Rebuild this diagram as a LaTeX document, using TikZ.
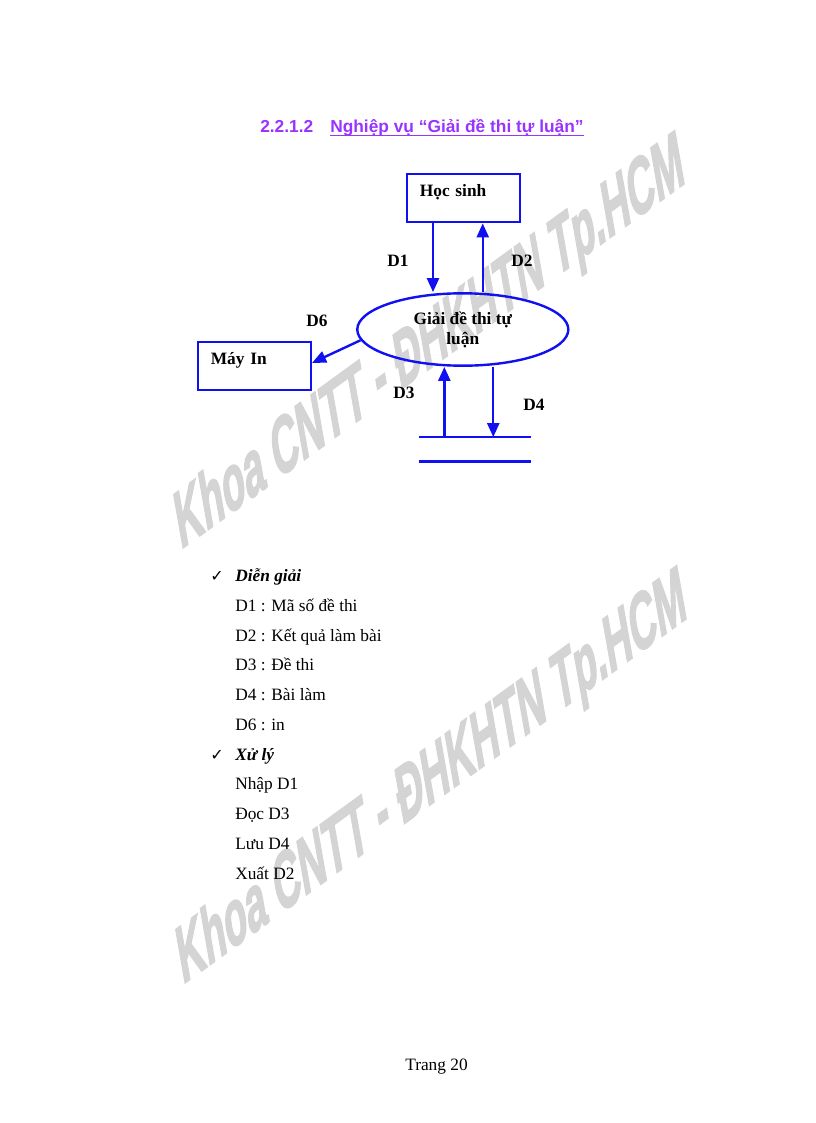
\documentclass[tikz,border=0pt]{standalone}
\usepackage{fontspec}
\setmainfont{Liberation Serif}
\newfontfamily\arialfont{Liberation Sans}
\newfontfamily\markfont[BoldFeatures={FakeBold=2.5}]{Liberation Sans}
\newfontfamily\symbolfont{DejaVu Sans}
\usetikzlibrary{arrows.meta,shapes.geometric,positioning}
\definecolor{flowblue}{RGB}{16,16,240}
\definecolor{titlepurple}{RGB}{153,51,255}
\definecolor{markgray}{RGB}{212,212,212}
\tikzset{
  entity/.style={draw=flowblue, line width=1.8pt, anchor=north west, inner xsep=9.5pt, inner ysep=0pt,
    text width=65.5pt, align=left, text height=16.5pt, text depth=19.5pt,
    font=\fontsize{13}{15}\selectfont\bfseries},
  process/.style={ellipse, draw=flowblue, line width=1.8pt, inner sep=0pt, minimum width=158.3pt,
    minimum height=54.3pt, align=center, font=\fontsize{13}{15}\selectfont\bfseries},
  flow/.style={draw=flowblue, line width=1.8pt, -{Triangle[length=10.5pt,width=9pt]}},
  flowlabel/.style={inner sep=0pt, font=\fontsize{13}{15}\selectfont\bfseries},
  bodytext/.style={anchor=base west, inner sep=0pt, font=\fontsize{13}{15}\selectfont},
  watermark/.style={transform shape, anchor=base west, inner sep=0pt, text=markgray,
    font=\markfont\bfseries\fontsize{10}{12}\selectfont}
}

\begin{document}
\begin{tikzpicture}[x=0.75pt, y=-0.75pt]
    \fill[white] (0,0) rectangle (816,1123);
    \useasboundingbox (0,0) rectangle (816,1123);
    % Watermarks
    \begin{scope}[shift={(180,550)}, cm={2.597,1.887,-1.019,5.78,(0,0)}]
        \node[watermark] (wmtop) at (0,0) {Khoa CNTT - ĐHKHTN Tp.HCM};
    \end{scope}
    \begin{scope}[shift={(182,985)}, cm={2.597,1.887,-1.019,5.78,(0,0)}]
        \node[watermark] (wmbottom) at (0,0) {Khoa CNTT - ĐHKHTN Tp.HCM};
    \end{scope}
    % Heading
    \node[anchor=base west, inner sep=0pt, text=titlepurple, font=\arialfont\bfseries\fontsize{13}{15}\selectfont]
         (secno) at (260,133) {2.2.1.2};
    \node[anchor=base west, inner sep=0pt, text=titlepurple, font=\arialfont\bfseries\fontsize{13}{15}\selectfont]
         (sectitle) at (330,133) {Nghiệp vụ “Giải đề thi tự luận”};
    \draw[titlepurple, line width=1.2pt] ([yshift=-2pt]sectitle.base west) -- ([yshift=-2pt]sectitle.base east);
    % Data flow diagram
    \node[entity] (hocsinh) at (406,173) {Học sinh};
    \node[entity] (mayin) at (197,341) {Máy In};
    \node[process] (giaide) at (462.8,329.5) {Giải đề thi tự\\luận};
    \node[inner sep=0pt, minimum width=83.5pt, minimum height=17.8pt] (kho) at (475,449.2) {};
    \draw[flowblue, line width=1.8pt] (kho.north west) -- (kho.north east);
    \draw[flowblue, line width=1.8pt] (kho.south west) -- (kho.south east);
    % Flows
    \draw[flow] ([xshift=-22.9pt]hocsinh.south) -- ([xshift=-22.9pt]hocsinh.south |- giaide.north);
    \draw[flow] ([xshift=14.4pt]hocsinh.south |- giaide.north) -- ([xshift=14.4pt]hocsinh.south);
    \draw[flow] ([xshift=-23pt]kho.north) -- ([xshift=-23pt]kho.north |- giaide.south);
    \draw[flow] ([xshift=13.7pt]kho.north |- giaide.south) -- ([xshift=13.7pt]kho.north);
    \draw[flow] (giaide.186) -- ([yshift=2.5pt]mayin.east);
    \node[flowlabel] (lblone) at (398,261) {D1};
    \node[flowlabel] (lbltwo) at (522,261) {D2};
    \node[flowlabel] (lblsix) at (317,321) {D6};
    \node[flowlabel] (lblthree) at (404,393) {D3};
    \node[flowlabel] (lblfour) at (534,405) {D4};
    % Explanation
    \node[bodytext, font=\symbolfont\fontsize{12}{14}\selectfont] (checkone) at (210,581.5) {✓};
    \node[bodytext, font=\fontsize{13}{15}\selectfont\bfseries\itshape] (diengiai) at (235,581.5) {Diễn giải};
    \foreach \txt [count=\i] in {D1 : Mã số đề thi, D2 : Kết quả làm bài, D3 : Đề thi, D4 : Bài làm, D6 : in}
        \node[bodytext] (dg\i) at (235,{581.5+29.75*\i}) {\txt};
    \node[bodytext, font=\symbolfont\fontsize{12}{14}\selectfont] (checktwo) at (210,760) {✓};
    \node[bodytext, font=\fontsize{13}{15}\selectfont\bfseries\itshape] (xuly) at (235,760) {Xử lý};
    \foreach \txt [count=\i] in {Nhập D1, Đọc D3, Lưu D4, Xuất D2}
        \node[bodytext] (xl\i) at (235,{760+29.75*\i}) {\txt};
    \node[bodytext] (pageno) at (405,1070) {Trang 20};
\end{tikzpicture}
\end{document}
